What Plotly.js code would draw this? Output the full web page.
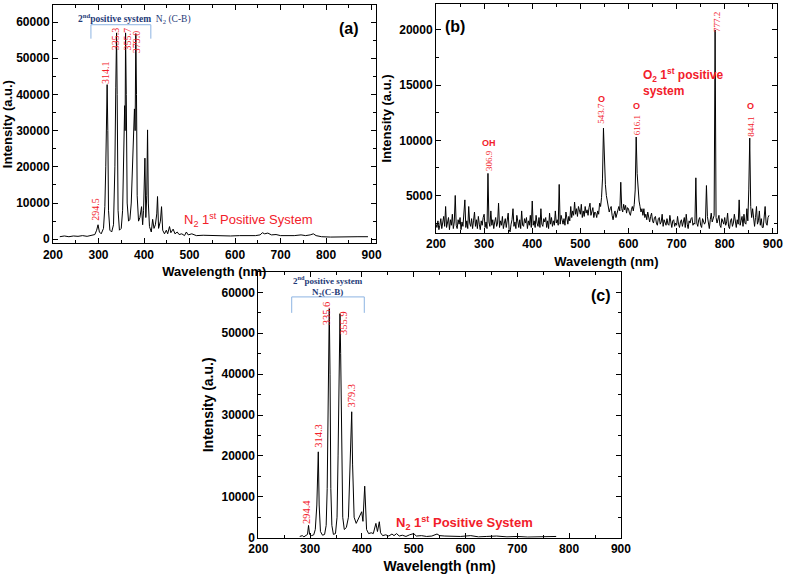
<!DOCTYPE html>
<html>
<head>
<meta charset="utf-8">
<script src="https://cdn.plot.ly/plotly-3.0.1.min.js"></script>
<style>
    html, body { margin: 0; padding: 0; background: #fff; }
    #chart { width: 787px; height: 575px; }
</style>
</head>
<body>
<div id="chart"></div>
<script>
// (a) plasma spectrum, N2 second positive system
const aWave = [215, 225, 235, 245, 255, 265, 275, 285, 292, 296, 299, 302, 306, 311, 314, 316, 317.5, 319, 320.5, 322,
    325, 329, 333, 336, 338, 339.7, 341, 343, 346, 350, 353, 356, 357.5, 358.5, 359.5, 361, 363, 366, 369, 372,
    376, 379, 380.5, 382, 383.5, 385, 388, 391, 394.6, 397, 399, 402, 404, 406, 407.8, 409.5, 412, 416, 419, 422,
    425, 428, 429.7, 432, 436, 438.5, 441, 445, 449, 452, 456, 459, 464, 468, 473, 477, 483, 489, 493, 497,
    505, 515, 530, 550, 570, 590, 610, 630, 645, 655, 660, 665, 672, 680, 690, 700, 715, 730, 745, 755,
    765, 772, 778, 790, 810, 830, 850, 870, 892]
const aIntensity = [700, 900, 700, 900, 800, 1000, 800, 1000, 1300, 2500, 4000, 2000, 1500, 3000, 9000, 20000, 30000, 42700, 30000, 8000,
    2500, 2000, 4000, 20000, 42000, 57000, 40000, 8000, 2500, 3000, 8000, 30000, 36900, 30000, 57000, 40000, 10000, 5000, 5500, 10000,
    25000, 36000, 30000, 56800, 40000, 12000, 5000, 6000, 9000, 4000, 8000, 22400, 6000, 12000, 30200, 10000, 3500, 2000, 5500, 3000,
    4000, 7000, 11800, 3000, 5000, 9000, 2500, 1500, 2500, 1500, 3500, 1800, 2800, 1500, 2000, 1300, 1500, 1000, 2000, 1200,
    1500, 1000, 1100, 1000, 1100, 900, 1000, 900, 1000, 1200, 1800, 1500, 1700, 1200, 1300, 1000, 900, 1000, 1200, 1000,
    1200, 1500, 1000, 700, 600, 700, 600, 700, 700]

// (b) evenly sampled spectrum, 2 nm steps from 200 nm (one row = 40 nm)
const bStart = 200
const bStep = 2
const bIntensity = [
    2400, 2100, 2700, 1900, 2300, 2900, 2000, 2600, 3100, 2200, 4000, 2100, 2500, 3000, 1900, 2800, 2300, 3300, 2000, 2600,
    5000, 2300, 2000, 2800, 2400, 3000, 1900, 2600, 2200, 3100, 4600, 2100, 2700, 2000, 4000, 2500, 2200, 2900, 2000, 2700,
    3500, 2200, 2800, 2000, 3100, 2400, 1900, 2700, 2300, 3000, 3300, 2100, 2600, 2000, 7000, 2600, 2200, 3600, 2300, 2800,
    2000, 2600, 3000, 2200, 2500, 4300, 2100, 2700, 2300, 3100, 2000, 2500, 2900, 2100, 2600, 3400, 1900, 1700, 2400, 2800,
    3800, 2200, 2600, 2000, 3200, 2400, 2100, 2800, 2000, 3600, 2300, 2200, 2900, 2500, 3000, 2000, 2700, 2300, 3200, 2100,
    4500, 2300, 2700, 2100, 3200, 2500, 2200, 3000, 2100, 3800, 2400, 2200, 2900, 2600, 3000, 2100, 2700, 2000, 3400, 2400,
    3000, 2200, 2700, 2300, 3600, 2500, 2800, 2300, 6000, 2400, 3200, 2800, 2400, 2900, 2300, 3500, 2600, 2400, 3100, 2700,
    4000, 3000, 3600, 3200, 4400, 3300, 3800, 3100, 4000, 3500, 3300, 4200, 3000, 3600, 3100, 4000, 3400, 3700, 3200, 3900,
    4300, 3200, 3600, 3900, 3000, 3500, 3400, 3000, 3600, 3300, 4300, 4000, 4800, 6500, 11100, 8000, 6000, 5000, 4500, 4000,
    3500, 3800, 4000, 3200, 2800, 3300, 3600, 3000, 3400, 3500, 4000, 3600, 6200, 3800, 3500, 4200, 3700, 4100, 3400, 3900,
    3800, 3400, 3200, 3700, 4000, 3600, 4200, 5500, 10300, 7000, 5000, 4500, 4000, 3500, 3800, 3200, 3800, 3000, 3300, 2800,
    3500, 2800, 2600, 3100, 3400, 2700, 2500, 3000, 3100, 2500, 2300, 2900, 3000, 2400, 2600, 3300, 2200, 2800, 2500, 2300,
    2900, 2400, 2300, 3200, 2600, 2100, 2700, 2800, 2200, 2500, 2300, 3100, 2400, 2100, 2600, 2800, 2200, 2500, 3000, 2100,
    3300, 2400, 2000, 2700, 2500, 2900, 3000, 2300, 2500, 2400, 6600, 2500, 2200, 2800, 3000, 2300, 2100, 2900, 2500, 2400,
    2600, 5900, 3100, 2500, 2000, 2800, 3400, 2600, 3000, 3200, 20000, 3000, 2500, 2800, 3200, 2300, 2100, 2900, 2600, 2400,
    3000, 2300, 2600, 3400, 2200, 2000, 2700, 2900, 2200, 2500, 3300, 2400, 2100, 2800, 2400, 4600, 2300, 2700, 3100, 2200,
    3300, 2500, 2400, 3800, 2700, 5500, 10200, 4000, 3000, 3800, 2600, 2200, 3000, 4000, 2400, 2700, 3600, 2300, 2900, 2100,
    2100, 2800, 4000, 2500, 2300, 3000, 3200]

// (c) second spectrum, N2 second positive system
const cWave = [280, 285, 288, 292, 295, 297, 299, 303, 307, 310, 313, 315.8, 317.5, 320, 324, 328, 331, 333, 335, 337,
    338.5, 340, 342, 345, 349, 352, 354, 356, 357.7, 359, 361, 363, 366, 370, 374, 377, 380.3, 382, 385, 389,
    393, 396, 399.6, 402, 405.4, 407, 409, 413, 418, 422, 425, 427, 430, 433.6, 436, 440, 446, 452, 458, 462,
    467, 472, 478, 485, 492, 500, 505, 515, 525, 535, 545, 550, 560, 575, 590, 610, 625, 640, 660, 680,
    700, 720, 740, 750, 760, 775]
const cIntensity = [300, 500, 200, 600, 800, 3000, 800, 500, 700, 2000, 8000, 21000, 8000, 1500, 600, 800, 3000, 12000, 35000, 56000,
    40000, 12000, 3000, 800, 1000, 5000, 20000, 45000, 54800, 45000, 18000, 5000, 2000, 2500, 5000, 16000, 30800, 18000, 5000, 3500,
    4500, 5500, 6350, 4000, 12600, 8000, 2000, 1000, 1200, 1000, 2500, 3500, 1500, 3900, 1200, 500, 700, 400, 900, 500,
    1000, 400, 600, 300, 700, 1000, 400, 500, 300, 400, 900, 500, 400, 300, 300, 500, 200, 300, 400, 200,
    300, 150, 200, 300, 150, 300]

const aLabels = ['294.5', '314.1', '335.3', '355.7', '379.0']
const bLabels = ['306.9', '543.7', '616.1', '777.2', '844.1']
const cLabels = ['294.4', '314.3', '335.6', '355.9', '379.3']

const sans = 'Liberation Sans, Arial, sans-serif'
const serif = 'Liberation Serif, Times New Roman, serif'
const red = '#f2202a'
const navy = '#1f3b78'
const bracketBlue = '#8db4e2'

let axis = (extra) => Object.assign({
    showline: true,
    linecolor: '#000',
    linewidth: 1,
    mirror: 'ticks',
    ticks: 'inside',
    ticklen: 5,
    tickwidth: 1,
    tickcolor: '#000',
    showgrid: false,
    zeroline: false,
    tickformat: 'd',
    tickfont: {family: sans, size: 12, color: '#000', weight: 'bold'}
}, extra)

let xTitle = (size) => ({text: 'Wavelength (nm)', standoff: 6, font: {family: sans, size: size, color: '#000', weight: 'bold'}})
let yTitle = (size) => ({text: 'Intensity (a.u.)', standoff: 4, font: {family: sans, size: size, color: '#000', weight: 'bold'}})

let minor = (d) => ({ticks: 'inside', ticklen: 3, tickcolor: '#000', dtick: d, showgrid: false})

let note = (ax, x, y, text, font, extra) => Object.assign({
    xref: 'x' + ax, yref: 'y' + ax, x: x, y: y, text: text, showarrow: false, font: font
}, extra || {})

let peakFont = (size) => ({family: serif, size: size, color: red})
let vertical = {textangle: -90}
let oFont = {family: sans, size: 9, color: red, weight: 'bold'}

let bracket = (ax, left, right, top, bottom) => {
    let base = {xref: 'x' + ax, yref: 'y' + ax, type: 'line', line: {color: bracketBlue, width: 1}}
    return [
        Object.assign({x0: left, x1: right, y0: top, y1: top}, base),
        Object.assign({x0: left, x1: left, y0: top, y1: bottom}, base),
        Object.assign({x0: right, x1: right, y0: top, y1: bottom}, base)
    ]
}

let lineStyle = {color: '#000', width: 1}

let traces = [
    {x: aWave, y: aIntensity, xaxis: 'x', yaxis: 'y', mode: 'lines', line: lineStyle, hoverinfo: 'skip'},
    {y: bIntensity, x0: bStart, dx: bStep, xaxis: 'x2', yaxis: 'y2', mode: 'lines', line: lineStyle, hoverinfo: 'skip'},
    {x: cWave, y: cIntensity, xaxis: 'x3', yaxis: 'y3', mode: 'lines', line: lineStyle, hoverinfo: 'skip'}
]

let annotations = [
    // panel (a)
    note('', 850, 58300, '(a)', {family: sans, size: 16, color: '#000', weight: 'bold'}),
    note('', 380, 61100, '<b>2<sup>nd</sup>positive system</b>  N<sub>2</sub> (C-B)', {family: serif, size: 9.5, color: navy}),
    note('', 294.4, 8400, aLabels[0], peakFont(10), vertical),
    note('', 315.6, 46100, aLabels[1], peakFont(10), vertical),
    note('', 336, 55500, aLabels[2], peakFont(10), vertical),
    note('', 361.7, 55300, aLabels[3], peakFont(10), vertical),
    note('', 383.7, 54600, aLabels[4], peakFont(10), vertical),
    note('', 628, 5200, 'N<sub>2</sub> 1<sup>st</sup> Positive System', {family: sans, size: 13, color: red}),

    // panel (b)
    note('2', 240.5, 20300, '(b)', {family: sans, size: 16, color: '#000', weight: 'bold'}),
    note('2', 627, 15300, 'O<sub>2</sub> 1<sup>st</sup> positive<br>system', {family: sans, size: 12, color: red, weight: 'bold'}, {xanchor: 'left', align: 'left'}),
    note('2', 310, 9750, 'OH', oFont),
    note('2', 310, 8200, bLabels[0], peakFont(9), vertical),
    note('2', 543.7, 13700, 'O', oFont),
    note('2', 543.7, 12450, bLabels[1], peakFont(9), vertical),
    note('2', 617, 13100, 'O', oFont),
    note('2', 617, 11330, bLabels[2], peakFont(9), vertical),
    note('2', 783.5, 20700, bLabels[3], peakFont(9), vertical),
    note('2', 852.8, 13100, 'O', oFont),
    note('2', 852.8, 11250, bLabels[4], peakFont(9), vertical),

    // panel (c)
    note('3', 861, 59300, '(c)', {family: sans, size: 16, color: '#000', weight: 'bold'}),
    note('3', 335, 61500, '<b>2<sup>nd</sup>positive system<br>N<sub>2</sub>(C-B)</b>', {family: serif, size: 9, color: navy}),
    note('3', 293.4, 6200, cLabels[0], peakFont(10.5), vertical),
    note('3', 315.8, 25000, cLabels[1], peakFont(10.5), vertical),
    note('3', 332, 54800, cLabels[2], peakFont(10.5), vertical),
    note('3', 364, 52600, cLabels[3], peakFont(10.5), vertical),
    note('3', 380.3, 34700, cLabels[4], peakFont(10.5), vertical),
    note('3', 598, 3550, 'N<sub>2</sub> 1<sup>st</sup> Positive System', {family: sans, size: 13, color: red, weight: 'bold'})
]

let shapes = [].concat(
    bracket('', 283.4, 415, 59250, 55400),
    bracket('3', 264.5, 404.6, 58900, 55000)
)

let layout = {
    width: 787,
    height: 575,
    margin: {l: 0, r: 0, t: 0, b: 0},
    paper_bgcolor: '#fff',
    plot_bgcolor: '#fff',
    showlegend: false,
    font: {family: sans, color: '#000'},

    xaxis: axis({domain: [0.0673, 0.4774], range: [200, 909], dtick: 100, minor: minor(50), anchor: 'y', title: xTitle(13)}),
    yaxis: axis({domain: [0.577, 0.9913], range: [-1100, 64700], dtick: 10000, minor: minor(5000), anchor: 'x', title: yTitle(13)}),

    xaxis2: axis({domain: [0.554, 0.9869], range: [200, 908], dtick: 100, minor: minor(50), anchor: 'y2', title: xTitle(13)}),
    yaxis2: axis({domain: [0.5948, 0.993], range: [1600, 22350], dtick: 5000, tick0: 0, minor: minor(2500), anchor: 'x2', title: yTitle(13)}),

    xaxis3: axis({domain: [0.3282, 0.789], range: [200, 900], dtick: 100, minor: minor(50), anchor: 'y3', title: xTitle(14)}),
    yaxis3: axis({domain: [0.0649, 0.527], range: [0, 65000], dtick: 10000, minor: minor(5000), anchor: 'x3', title: yTitle(14)}),

    annotations: annotations,
    shapes: shapes
}

Plotly.newPlot('chart', traces, layout, {displayModeBar: false, staticPlot: true})
</script>
</body>
</html>
